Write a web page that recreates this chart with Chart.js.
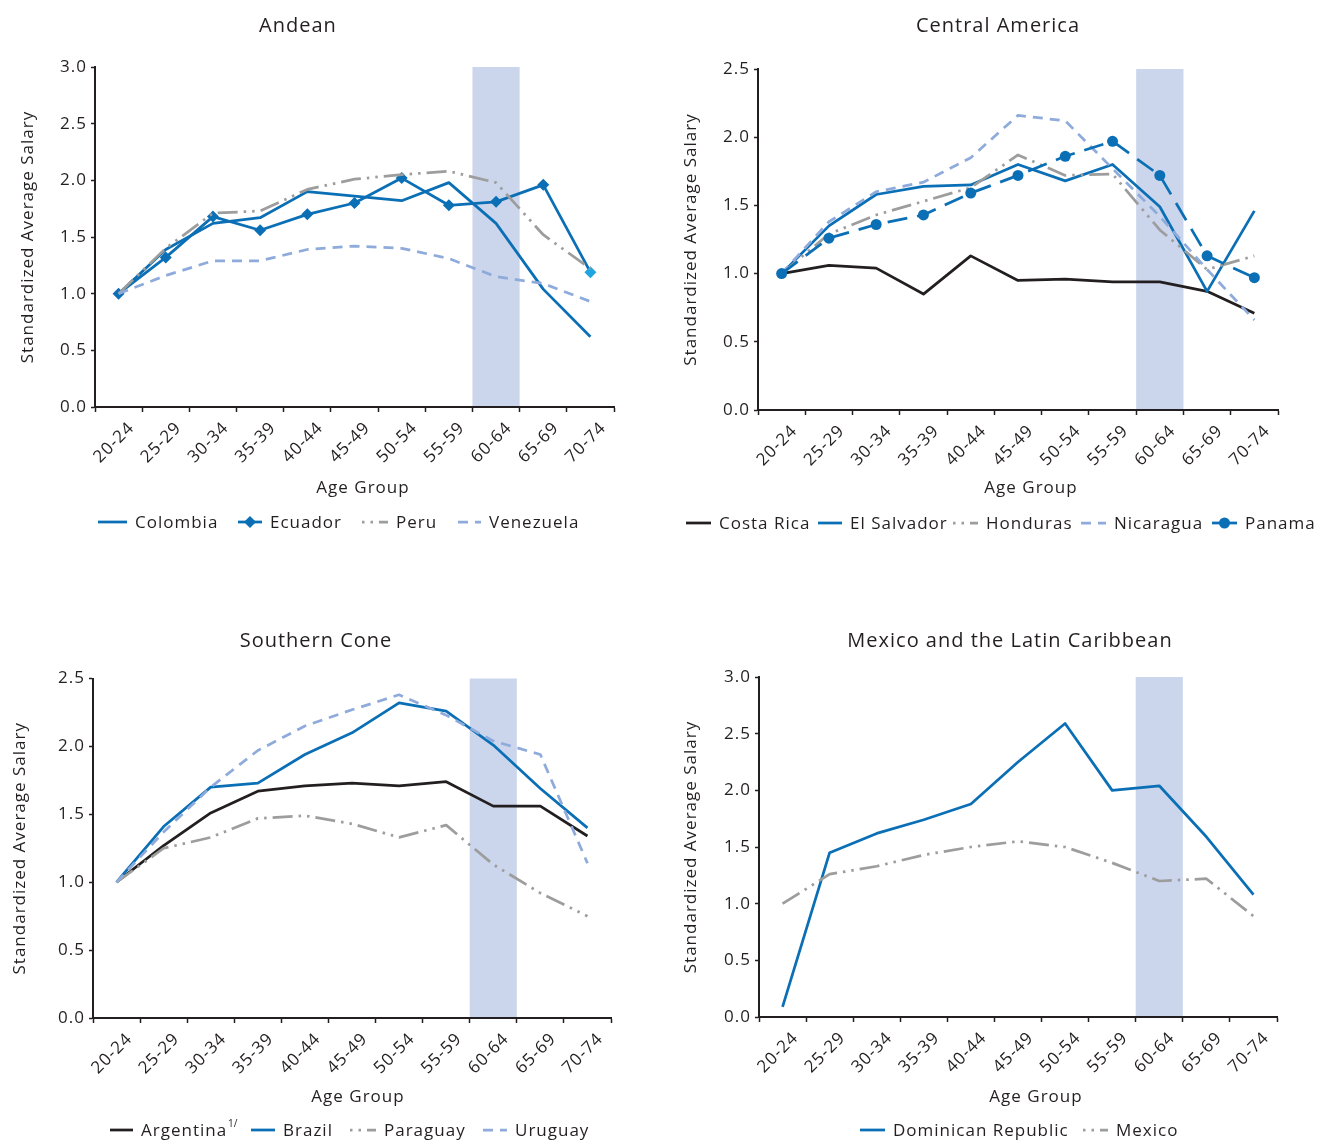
<!DOCTYPE html>
<html>
<head>
<meta charset="utf-8">
<title>Standardized Average Salary by Age Group</title>
<script src="https://cdn.jsdelivr.net/npm/chart.js@4.4.1/dist/chart.umd.min.js"></script>
<style>
  html, body { margin: 0; padding: 0; background: #ffffff; }
  body { width: 1317px; height: 1142px; position: relative; overflow: hidden; }
  .panel { position: absolute; }
</style>
</head>
<body>
<div class="panel" style="left:0;top:0;width:658px;height:560px"><canvas id="andean"></canvas></div>
<div class="panel" style="left:658px;top:0;width:659px;height:560px"><canvas id="central"></canvas></div>
<div class="panel" style="left:0;top:580px;width:658px;height:562px"><canvas id="southern"></canvas></div>
<div class="panel" style="left:658px;top:580px;width:659px;height:562px"><canvas id="caribbean"></canvas></div>

<script>
// ---- categories ----
const ageGroups = ['20-24', '25-29', '30-34', '35-39', '40-44', '45-49', '50-54', '55-59', '60-64', '65-69', '70-74'];
const shadedGroup = '60-64';
const yAxisTitle = 'Standardized Average Salary';
const xAxisTitle = 'Age Group';

// ---- Andean ----
const colombia  = [1.00, 1.39, 1.62, 1.67, 1.90, 1.86, 1.82, 1.98, 1.62, 1.04, 0.62];
const ecuador   = [1.00, 1.32, 1.68, 1.56, 1.70, 1.80, 2.02, 1.78, 1.81, 1.96, 1.19];
const peru      = [1.00, 1.40, 1.71, 1.73, 1.92, 2.01, 2.05, 2.08, 1.98, 1.52, 1.22];
const venezuela = [1.00, 1.16, 1.29, 1.29, 1.39, 1.42, 1.40, 1.31, 1.15, 1.09, 0.93];

// ---- Central America ----
const costaRica  = [1.00, 1.06, 1.04, 0.85, 1.13, 0.95, 0.96, 0.94, 0.94, 0.87, 0.71];
const elSalvador = [1.00, 1.35, 1.58, 1.64, 1.65, 1.80, 1.68, 1.80, 1.49, 0.87, 1.46];
const honduras   = [1.00, 1.29, 1.43, 1.53, 1.63, 1.87, 1.72, 1.73, 1.32, 1.03, 1.13];
const nicaragua  = [1.00, 1.38, 1.60, 1.67, 1.85, 2.16, 2.12, 1.77, 1.42, 1.03, 0.66];
const panama     = [1.00, 1.26, 1.36, 1.43, 1.59, 1.72, 1.86, 1.97, 1.72, 1.13, 0.97];

// ---- Southern Cone ----
const argentina = [1.00, 1.27, 1.51, 1.67, 1.71, 1.73, 1.71, 1.74, 1.56, 1.56, 1.34];
const brazil    = [1.00, 1.41, 1.70, 1.73, 1.94, 2.10, 2.32, 2.26, 2.01, 1.69, 1.40];
const paraguay  = [1.00, 1.25, 1.33, 1.47, 1.49, 1.43, 1.33, 1.42, 1.13, 0.92, 0.75];
const uruguay   = [1.00, 1.37, 1.70, 1.97, 2.15, 2.27, 2.38, 2.23, 2.04, 1.94, 1.14];

// ---- Mexico and the Latin Caribbean ----
const dominicanRepublic = [0.09, 1.45, 1.62, 1.74, 1.88, 2.25, 2.59, 2.00, 2.04, 1.59, 1.08];
const mexico            = [1.00, 1.26, 1.33, 1.43, 1.50, 1.55, 1.50, 1.36, 1.20, 1.22, 0.89];

// ---- styling ----
const FONT = "'Open Sans', 'Noto Sans', sans-serif";
const INK = '#231f20';
const BLUE = '#0b6fb6';
const LIGHT = '#8eabdb';
const GREY = '#9d9d9d';
const CYAN = '#22a5de';
const BAND = '#cbd6ed';
const TRACK = '1px';

const SOLID = [];
const DASHED = [10, 7];
const DASH_DOT_DOT = [20, 6, 2.5, 6, 2.5, 6];
const LONG_DASH = [20, 10];

Chart.defaults.font.family = FONT;
Chart.defaults.font.size = 17;
Chart.defaults.color = INK;

function line(label, data, color, dash, extra) {
  return Object.assign({
    label, data,
    borderColor: color, backgroundColor: color,
    borderWidth: 2.75, borderDash: dash,
    borderCapStyle: 'butt', borderJoinStyle: 'round',
    pointRadius: 0, pointHoverRadius: 0,
    tension: 0, fill: false
  }, extra || {});
}

// slightly tracked text, as in the printed figure
const tracking = {
  id: 'tracking',
  beforeUpdate(chart) { chart.ctx.letterSpacing = TRACK; },
  beforeLayout(chart) { chart.ctx.letterSpacing = TRACK; },
  beforeDraw(chart) { chart.ctx.letterSpacing = TRACK; }
};

// shaded column behind the chosen age group
const band = {
  id: 'band',
  beforeDraw(chart, args, opts) {
    const x = chart.scales.x;
    const idx = x.getLabels().indexOf(opts.label);
    if (idx < 0) return;
    const half = (x.getPixelForValue(1) - x.getPixelForValue(0)) / 2;
    const c = x.getPixelForValue(idx);
    const { top, bottom } = chart.chartArea;
    const ctx = chart.ctx;
    ctx.save();
    ctx.fillStyle = opts.color;
    ctx.fillRect(c - half, top, half * 2, bottom - top);
    ctx.restore();
  }
};

function drawMarker(ctx, style, x, y, r, color) {
  ctx.save();
  ctx.fillStyle = color;
  ctx.beginPath();
  if (style === 'rectRot') {
    ctx.moveTo(x, y - r); ctx.lineTo(x + r, y); ctx.lineTo(x, y + r); ctx.lineTo(x - r, y);
    ctx.closePath();
  } else {
    ctx.arc(x, y, r, 0, Math.PI * 2);
  }
  ctx.fill();
  ctx.restore();
}

// panel heading, x-axis caption and the legend row
const panelText = {
  id: 'panelText',
  afterDraw(chart, args, o) {
    const ctx = chart.ctx;
    ctx.save();
    ctx.letterSpacing = TRACK;
    ctx.fillStyle = INK;
    ctx.textBaseline = 'middle';
    ctx.textAlign = 'center';
    ctx.font = `20px ${FONT}`;
    ctx.fillText(o.title, o.titleX, o.titleY);
    ctx.font = `17px ${FONT}`;
    ctx.fillText(xAxisTitle, o.xTitleX, o.xTitleY);

    ctx.textAlign = 'left';
    chart.data.datasets.forEach((ds, i) => {
      const [sx, tx] = o.legendX[i];
      const ex = tx - 8;
      const y = o.legendY;
      ctx.save();
      ctx.strokeStyle = ds.borderColor;
      ctx.lineWidth = ds.borderWidth;
      ctx.setLineDash(ds.legendDash || ds.borderDash);
      ctx.lineDashOffset = ds.legendDashOffset || 0;
      ctx.beginPath();
      ctx.moveTo(sx, y);
      ctx.lineTo(ex, y);
      ctx.stroke();
      ctx.restore();
      if (ds.pointRadius > 0) drawMarker(ctx, ds.pointStyle, (sx + ex) / 2, y, ds.pointRadius, ds.borderColor);
      ctx.fillStyle = INK;
      ctx.font = `17px ${FONT}`;
      ctx.fillText(ds.label, tx, y + 1);
      if (ds.footnote) {
        const w = ctx.measureText(ds.label).width;
        ctx.font = `10px ${FONT}`;
        ctx.letterSpacing = '0px';
        ctx.fillText(ds.footnote, tx + w + 1, y - 6);
        ctx.letterSpacing = TRACK;
      }
    });
    ctx.restore();
  }
};

function makePanel(id, p) {
  const n = p.series.length;
  // later series are painted over earlier ones
  p.series.forEach((s, i) => { s.order = n - i; });
  return new Chart(document.getElementById(id), {
    type: 'line',
    data: { labels: ageGroups, datasets: p.series },
    options: {
      responsive: true,
      maintainAspectRatio: false,
      animation: false,
      events: [],
      layout: { padding: { top: p.plotTop, right: p.padRight, bottom: p.padBottom, left: 0 } },
      plugins: {
        legend: { display: false },
        tooltip: { enabled: false },
        band: { label: shadedGroup, color: BAND },
        panelText: p.text
      },
      scales: {
        x: {
          type: 'category',
          offset: true,
          grid: { offset: true, drawOnChartArea: false, drawTicks: true, tickLength: 5, tickWidth: 1.5, tickColor: INK },
          border: { display: true, color: INK, width: 2 },
          ticks: { autoSkip: false, minRotation: 45, maxRotation: 45, padding: 6, labelOffset: 13, color: INK, font: { size: 17 } },
          afterFit(s) { s.height = p.xAxisHeight; }
        },
        y: {
          min: 0,
          max: p.yMax,
          ticks: { stepSize: 0.5, padding: 4, color: INK, font: { size: 17 }, callback: v => Number(v).toFixed(1) },
          grid: { drawOnChartArea: false, drawTicks: true, tickLength: 4, tickWidth: 1.5, tickColor: INK },
          border: { display: true, color: INK, width: 2 },
          title: { display: true, text: yAxisTitle, color: INK, font: { size: 17 }, padding: { top: p.yTitlePad, bottom: 0 } },
          afterFit(s) { s.width = p.plotLeft; }
        }
      }
    },
    plugins: [tracking, band, panelText]
  });
}

makePanel('andean', {
  yMax: 3.0, plotTop: 67, plotLeft: 95, padRight: 44, padBottom: 63, xAxisHeight: 90, yTitlePad: 18,
  series: [
    line('Colombia', colombia, BLUE, SOLID),
    line('Ecuador', ecuador, BLUE, SOLID, {
      pointStyle: 'rectRot', pointRadius: 6, pointBorderWidth: 0,
      pointBackgroundColor: ecuador.map((v, i) => i === ecuador.length - 1 ? CYAN : BLUE),
      pointBorderColor: ecuador.map((v, i) => i === ecuador.length - 1 ? CYAN : BLUE)
    }),
    line('Peru', peru, GREY, DASH_DOT_DOT, { legendDashOffset: 26 }),
    line('Venezuela', venezuela, LIGHT, DASHED)
  ],
  text: { title: 'Andean', titleX: 298, titleY: 26, xTitleX: 363, xTitleY: 488, legendY: 522,
          legendX: [[98, 135], [238, 270], [362, 396], [458, 489]] }
});

makePanel('central', {
  yMax: 2.5, plotTop: 69, plotLeft: 100, padRight: 39, padBottom: 63, xAxisHeight: 87, yTitlePad: 23,
  series: [
    line('Costa Rica', costaRica, INK, SOLID),
    line('El Salvador', elSalvador, BLUE, SOLID),
    line('Honduras', honduras, GREY, DASH_DOT_DOT, { legendDashOffset: 26 }),
    line('Nicaragua', nicaragua, LIGHT, DASHED),
    line('Panama', panama, BLUE, LONG_DASH, { pointStyle: 'circle', pointRadius: 5.5, pointBorderWidth: 0, legendDash: SOLID })
  ],
  text: { title: 'Central America', titleX: 340, titleY: 26, xTitleX: 373, xTitleY: 488, legendY: 523,
          legendX: [[28, 61], [160, 192], [295, 328], [423, 456], [554, 587]] }
});

makePanel('southern', {
  yMax: 2.5, plotTop: 98.5, plotLeft: 93, padRight: 47, padBottom: 36, xAxisHeight: 88, yTitlePad: 10,
  series: [
    line('Argentina', argentina, INK, SOLID, { footnote: '1/' }),
    line('Brazil', brazil, BLUE, SOLID),
    line('Paraguay', paraguay, GREY, DASH_DOT_DOT, { legendDashOffset: 26 }),
    line('Uruguay', uruguay, LIGHT, DASHED)
  ],
  text: { title: 'Southern Cone', titleX: 316, titleY: 61, xTitleX: 358, xTitleY: 517, legendY: 550,
          legendX: [[110, 141], [251, 283], [350, 384], [483, 515]] }
});

makePanel('caribbean', {
  yMax: 3.0, plotTop: 97, plotLeft: 101, padRight: 40, padBottom: 36, xAxisHeight: 89, yTitlePad: 23,
  series: [
    line('Dominican Republic', dominicanRepublic, BLUE, SOLID),
    line('Mexico', mexico, GREY, DASH_DOT_DOT, { legendDashOffset: 26 })
  ],
  text: { title: 'Mexico and the Latin Caribbean', titleX: 352, titleY: 61, xTitleX: 378, xTitleY: 517, legendY: 550,
          legendX: [[202, 235], [425, 458]] }
});
</script>
</body>
</html>
